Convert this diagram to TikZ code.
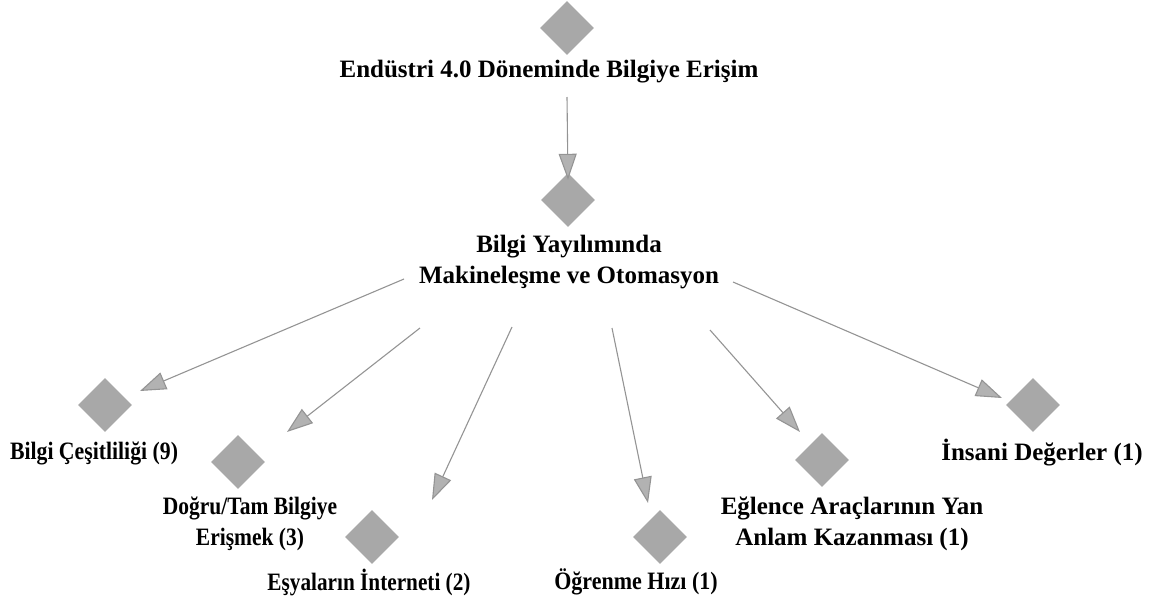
\documentclass[tikz,border=0pt]{standalone}
\usepackage{fontspec}
\setmainfont{Liberation Serif}
\usetikzlibrary{shapes.geometric,arrows.meta}
\begin{document}
\begin{tikzpicture}[x=1pt,y=-1pt,
  gem/.style={diamond, aspect=1, minimum width=54pt, minimum height=54pt,
              inner sep=0pt, fill=black!34, draw=none},
  lbl/.style={font=\fontsize{25}{31}\selectfont\bfseries, align=center,
              inner sep=0pt, text=black},
  narrow/.style={xscale=#1, transform shape},
  link/.style={draw=black!42, line width=1.1pt,
               -{Triangle[length=26pt,width=18pt,fill=black!30]}}
]
\useasboundingbox (0,0) rectangle (1157,603);

% root and second level
\node[gem] (root) at (567,28) {};
\node[lbl] (rootlbl) at (549,72) {Endüstri 4.0 Döneminde Bilgiye Erişim};
\node[gem] (mid) at (568,200) {};
\node[lbl] (midlbl) at (569,262) {Bilgi Yayılımında\\Makineleşme ve Otomasyon};

% leaves
\node[gem] (cesit) at (105,405) {};
\node[lbl, narrow=0.87] (cesitlbl) at (94,453) {Bilgi Çeşitliliği (9)};
\node[gem] (dogru) at (238,462) {};
\node[lbl, narrow=0.86] (dogrulbl) at (250,524) {Doğru/Tam Bilgiye\\Erişmek (3)};
\node[gem] (esya) at (372,537) {};
\node[lbl, narrow=0.85] (esyalbl) at (369,582) {Eşyaların İnterneti (2)};
\node[gem] (ogren) at (660,537) {};
\node[lbl, narrow=0.88] (ogrenlbl) at (636,582) {Öğrenme Hızı (1)};
\node[gem] (eglence) at (822,460) {};
\node[lbl] (eglencelbl) at (852,524) {Eğlence Araçlarının Yan\\Anlam Kazanması (1)};
\node[gem] (insani) at (1033,405) {};
\node[lbl] (insanilbl) at (1042,453) {İnsani Değerler (1)};

% connector ends
\coordinate (s0) at (567,97);
\coordinate (t0) at ([yshift=-7pt]mid.north);
\coordinate (s1) at (404,279);
\coordinate (t1) at ([shift={(35,-14)}]cesit.center);
\coordinate (s2) at (420,328);
\coordinate (t2) at ([shift={(49,-30)}]dogru.center);
\coordinate (s3) at (512,327);
\coordinate (t3) at ([shift={(60,-37)}]esya.center);
\coordinate (s4) at (612,328);
\coordinate (t4) at ([shift={(-12,-34)}]ogren.center);
\coordinate (s5) at (710,330);
\coordinate (t5) at ([shift={(-22,-28)}]eglence.center);
\coordinate (s6) at (733,282);
\coordinate (t6) at ([shift={(-31,-7)}]insani.center);

\draw[link] (s0) -- (t0);
\draw[link] (s1) -- (t1);
\draw[link] (s2) -- (t2);
\draw[link] (s3) -- (t3);
\draw[link] (s4) -- (t4);
\draw[link] (s5) -- (t5);
\draw[link] (s6) -- (t6);
\end{tikzpicture}
\end{document}
